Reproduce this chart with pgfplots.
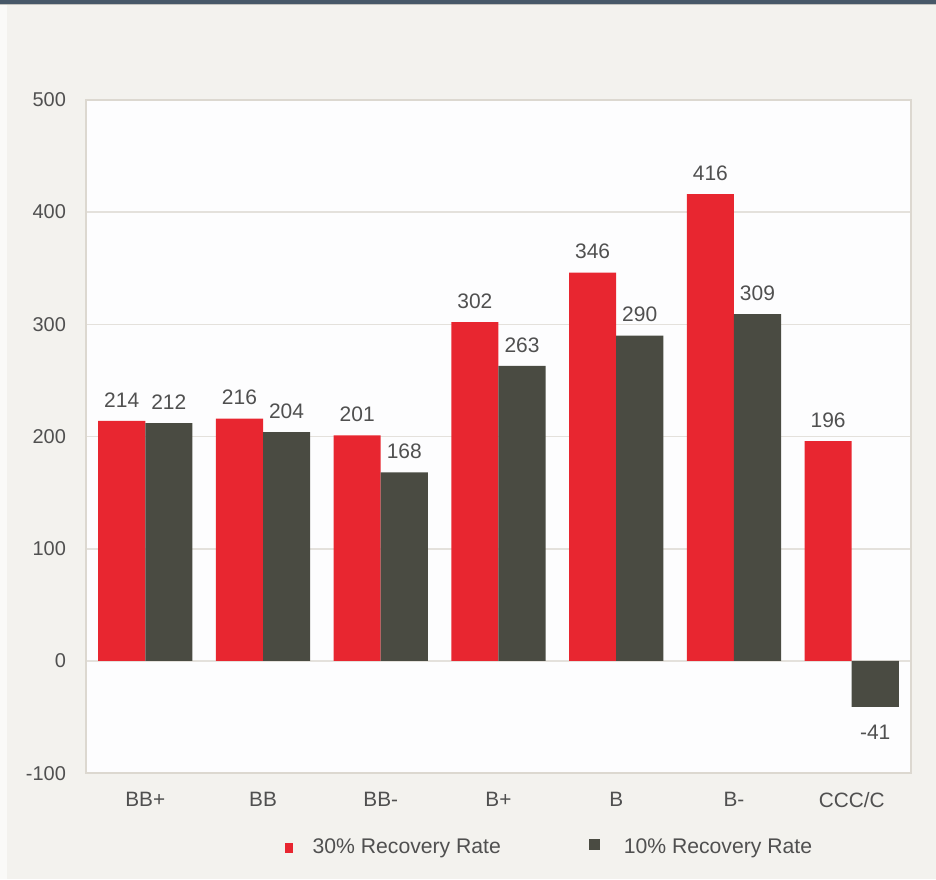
\documentclass[border=0pt]{standalone}
\usepackage{pgfplots}
\pgfplotsset{compat=1.18}
\usepackage{fontspec}
\setmainfont{Liberation Sans}
\definecolor{bg}{HTML}{F3F2EE}
\definecolor{plotbg}{HTML}{FDFDFE}
\definecolor{topbar}{HTML}{475868}
\definecolor{framec}{HTML}{DCD8D0}
\definecolor{gridc}{HTML}{E4E1DC}
\definecolor{txt}{HTML}{505050}
\definecolor{redbar}{HTML}{E82630}
\definecolor{darkbar}{HTML}{4A4B42}
\begin{document}
\begin{tikzpicture}
\fill[bg] (0pt,0pt) rectangle (468pt,440pt);
\fill[white!60!bg] (0pt,0pt) rectangle (3.5pt,438pt);
\fill[topbar] (0pt,438pt) rectangle (468pt,440pt);
\draw[line width=0.5pt, color=black!20!bg] (0pt,437.75pt) -- (468pt,437.75pt);
\begin{axis}[
  at={(43pt,53pt)}, anchor=south west, scale only axis,
  width=412.5pt, height=337pt,
  xmin=-0.5, xmax=6.5, ymin=-100, ymax=500,
  ytick={-100,0,100,200,300,400,500},
  xtick={0,1,2,3,4,5,6},
  xticklabels={BB+,BB,BB-,B+,B,B-,CCC/C},
  ybar=0pt, bar width=0.4,
  axis background/.style={fill=plotbg},
  axis line style={draw=framec, line width=1pt},
  ymajorgrids, grid style={draw=gridc, line width=0.8pt},
  major tick length=0pt,
  tick label style={text=txt},
  yticklabel style={font=\fontsize{10}{12}\selectfont, xshift=-6.7pt},
  xticklabel style={font=\fontsize{10.4}{12}\selectfont, yshift=-6pt},
  /pgf/number format/assume math mode=true,
  nodes near coords,
  visualization depends on={rawy \as \rawy},
  every node near coord/.append style={font=\fontsize{10.5}{12}\selectfont, text=txt,
     yshift={(\rawy<0) ? -5.75 : 3.25}},
  legend style={at={(0.563,-0.111)}, anchor=center, draw=none, fill=none,
     font=\fontsize{10.6}{13}\selectfont, text=txt,
     /tikz/every even column/.append style={column sep=42pt}},
  legend columns=2,
]
\addplot[fill=redbar, draw=none,
  legend image code/.code={\fill[redbar] (0pt,-2.6pt) rectangle (4.3pt,2.6pt); \path (12pt,0pt);}]
  coordinates {(0,214) (1,216) (2,201) (3,302) (4,346) (5,416) (6,196)};
\addplot[fill=darkbar, draw=none,
  legend image code/.code={\fill[darkbar] (0pt,-1.2pt) rectangle (5.5pt,4.3pt); \path (15.5pt,0pt);}]
  coordinates {(0,212) (1,204) (2,168) (3,263) (4,290) (5,309) (6,-41)};
\legend{30\% Recovery Rate, 10\% Recovery Rate}
\end{axis}
\end{tikzpicture}
\end{document}
